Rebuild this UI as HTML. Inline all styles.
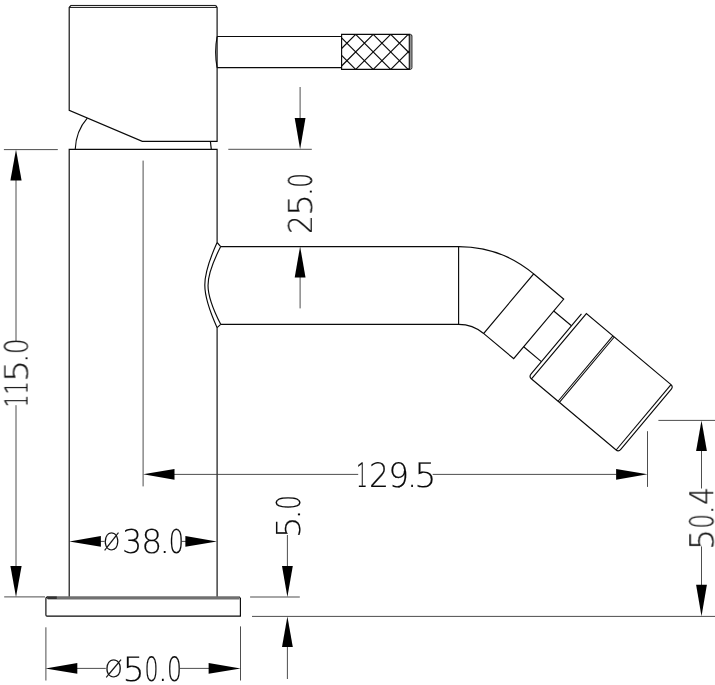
<!DOCTYPE html>
<html lang="en">
<head>
<meta charset="utf-8">
<title>Bidet mixer technical drawing</title>
<style>
html,body{margin:0;padding:0;background:#fff;}
body{width:715px;height:685px;overflow:hidden;}
svg{display:block;}
.o{fill:none;stroke:#0a0a0a;stroke-width:1.15;stroke-linecap:butt;stroke-linejoin:miter;}
.d{fill:none;stroke:#2e2e2e;stroke-width:0.85;}
.g{fill:none;stroke:#3a3a3a;stroke-width:0.9;}
.a{fill:#000;stroke:none;}
text{text-rendering:geometricPrecision;font-family:"DejaVu Sans Light","DejaVu Sans","Liberation Sans",sans-serif;font-weight:200;font-size:32.3px;fill:#0a0a0a;stroke:#0a0a0a;stroke-width:0.15;}
</style>
</head>
<body>
<svg width="715" height="685" viewBox="0 0 715 685">
<rect width="715" height="685" fill="#fff"/>

<!-- handle -->
<g class="o">
<path d="M71,5.4 L69.2,7.4 L69.2,110.3 L142.3,141.4 L217.1,141.4 L217.1,7.4 L215.6,5.4"/>
<path d="M70.8,5.45 L215.8,5.45 M69.4,7.4 L216.9,7.4" style="stroke-width:1;stroke:#111"/>
<!-- lever -->
<path d="M217.1,36.5 L341.6,36.5 M217.1,67.6 L341.6,67.6"/>
<path d="M217.1,36.5 Q214.2,52 217.1,67.6"/>
<!-- knurl -->
<path d="M341.6,34.4 L409.3,34.4 L409.3,69.3 L341.6,69.3 Z"/>
<path d="M409.3,34.4 L410.6,34.4 Q411.9,34.6 411.9,36 L411.9,67.7 Q411.9,69.1 410.6,69.3 L409.3,69.3" style="stroke-width:1"/>
<!-- dome under handle -->
<path d="M75.2,149.4 Q76,131 87.3,118.2"/>
<path d="M210.4,141.4 L211.3,149.4"/>
</g>
<path d="M410.7,35 L410.7,68.8" fill="none" stroke="#555" stroke-width="0.8"/>
<path class="o" style="stroke-width:1.2" d="M341.6,55.3 L355.6,69.3 M341.6,37.8 L373.1,69.3 M355.7,34.4 L390.6,69.3 M355.7,34.4 L341.6,48.5 M373.2,34.4 L408.1,69.3 M373.2,34.4 L341.6,66.0 M390.7,34.4 L409.3,53.0 M390.7,34.4 L355.8,69.3 M408.2,34.4 L409.3,35.5 M408.2,34.4 L373.3,69.3 M409.3,50.8 L390.8,69.3 M409.3,68.3 L408.3,69.3"/>

<!-- body -->
<g class="o">
<path d="M69.2,597 L69.2,149.4 L217.1,149.4 L217.1,242.5"/>
<path d="M217.1,327.7 L217.1,597"/>
<!-- spout junction curves (cosine-like intersection curves) -->
<path d="M217.1,242.5 C200.7,278.7 200.7,291.5 217.1,327.7"/>
<path d="M220.7,246.55 C203.8,279.6 203.8,291.3 220.7,324.35"/>
<path d="M217.1,242.5 L220.7,246.55 M217.1,327.7 L220.7,324.35"/>
<!-- spout -->
<path d="M220.7,246.55 L458.6,246.55 A116.8,116.8 0 0 1 533.68,273.88"/>
<path d="M220.7,324.35 L458.6,324.35 A39,39 0 0 1 483.67,333.47"/>
<path d="M458.6,246.55 L458.6,324.35"/>
</g>
<g class="o" transform="translate(458.6,363.35) rotate(40)">
<rect x="0" y="-116.8" width="39.2" height="77.8"/>
<path d="M39.2,-101.3 L62.3,-101.3 M39.2,-54.5 L62.3,-54.5"/>
<path d="M62.3,-116.9 L62.3,-38.6 Q62.3,-35.1 65.6,-34.9 L176,-34.9 Q179.5,-34.9 179.5,-38.4 L179.5,-117 Q179.5,-120.25 176,-120.25 L65.9,-120.25 L65.9,-34.9"/>
<path d="M176.4,-120.25 L176.4,-34.9"/>
<path d="M100.5,-120.25 L100.5,-34.9 M102.3,-120.25 L102.3,-34.9" style="stroke-width:1.05"/>
</g>

<!-- base -->
<g class="o">
<path d="M239,596.8 L240.4,598.2 L240.4,616.1 L47,616.1 Q45.9,616.1 45.9,615 L45.9,598.8 Q45.9,596.8 47.9,596.8"/>
</g>
<path d="M47.6,597.85 L239.6,597.85" fill="none" stroke="#707070" stroke-width="3.2"/>
<path d="M47.2,597.7 L56.8,597.7" fill="none" stroke="#333" stroke-width="2.6"/>

<!-- centre line and dimension / extension lines -->
<g class="d">
<path d="M143.1,160.6 L143.1,486.4"/>
<path d="M3.9,149.6 L57.8,149.6"/>
<path d="M4.2,596.9 L45,596.9"/>
<path d="M228.3,149.3 L311.8,149.3"/>
<path d="M250.1,597 L299.8,597"/>
<path d="M252,616.4 L715,616.4"/>
<path d="M658.4,420.4 L715,420.4"/>
<path d="M647.5,431.2 L647.5,486.9"/>
<path d="M45.9,627.3 L45.9,680.5"/>
<path d="M240.5,626.4 L240.5,680.5"/>
</g>
<g class="g">
<!-- 115.0 -->
<path d="M16,180 L16,341.2 M16,405.2 L16,566.5"/>
<!-- 25.0 -->
<path d="M300.1,87 L300.1,118.5 M300.1,277 L300.1,308.4"/>
<!-- 129.5 -->
<path d="M174,474.4 L358.2,474.4 M432.7,474.4 L616.5,474.4"/>
<!-- 38 -->
<path d="M100,541.4 L104.6,541.4 M181.7,541.4 L186,541.4"/>
<!-- 50 -->
<path d="M77,668.4 L105.8,668.4 M179.8,668.4 L209,668.4"/>
<!-- 5.0 -->
<path d="M287.4,535 L287.4,566.5 M287.4,646.5 L287.4,679"/>
<!-- 50.4 -->
<path d="M701.5,450.5 L701.5,488.5 M701.5,546.4 L701.5,585"/>
</g>
<g class="a">
<path d="M16,149.6 L10.4,180.6 L21.6,180.6 Z"/>
<path d="M16,596.9 L10.4,565.9 L21.6,565.9 Z"/>
<path d="M300.1,149.3 L294.7,118 L305.5,118 Z"/>
<path d="M300.1,246.4 L294.7,277.4 L305.5,277.4 Z"/>
<path d="M143.1,474.3 L174.5,468.9 L174.5,479.7 Z"/>
<path d="M647.5,474.3 L616.1,468.9 L616.1,479.7 Z"/>
<path d="M69.3,541.4 L100.9,536 L100.9,546.8 Z"/>
<path d="M216.9,541.4 L185.4,536 L185.4,546.8 Z"/>
<path d="M45.5,668.4 L77.3,663 L77.3,673.8 Z"/>
<path d="M240.6,668.4 L208.6,663 L208.6,673.8 Z"/>
<path d="M287.4,597 L282,566 L292.8,566 Z"/>
<path d="M287.4,616.4 L282,647 L292.8,647 Z"/>
<path d="M701.5,420.4 L696.1,451 L706.9,451 Z"/>
<path d="M701.5,616.2 L696.1,584.7 L706.9,584.7 Z"/>
</g>

<!-- dimension text -->
<g opacity="0.999">
<text style="font-size:33.7px"><tspan x="356.21" y="487.00" textLength="11.48" lengthAdjust="spacingAndGlyphs">1</tspan><tspan x="369.03" y="487.00" textLength="20.02" lengthAdjust="spacingAndGlyphs">2</tspan><tspan x="388.22" y="487.00" textLength="20.82" lengthAdjust="spacingAndGlyphs">9</tspan><tspan x="406.64" y="487.00">.</tspan><tspan x="414.34" y="487.00" textLength="22.25" lengthAdjust="spacingAndGlyphs">5</tspan></text>
<text style="font-size:32.8px"><tspan x="103.00" y="549.75" font-size="23.5" textLength="17.06" lengthAdjust="spacingAndGlyphs">Ø</tspan><tspan x="121.98" y="553.30" textLength="20.27" lengthAdjust="spacingAndGlyphs">3</tspan><tspan x="141.19" y="553.30" textLength="21.01" lengthAdjust="spacingAndGlyphs">8</tspan><tspan x="159.48" y="553.30">.</tspan><tspan x="168.66" y="553.30" textLength="15.27" lengthAdjust="spacingAndGlyphs">0</tspan></text>
<text style="font-size:33.6px"><tspan x="104.41" y="676.95" font-size="23.5" textLength="18.23" lengthAdjust="spacingAndGlyphs">Ø</tspan><tspan x="122.44" y="680.50" textLength="22.25" lengthAdjust="spacingAndGlyphs">5</tspan><tspan x="144.54" y="680.50" textLength="14.01" lengthAdjust="spacingAndGlyphs">0</tspan><tspan x="157.46" y="680.50">.</tspan><tspan x="167.00" y="680.50" textLength="14.99" lengthAdjust="spacingAndGlyphs">0</tspan></text>
<text style="font-size:32.5px" transform="translate(311.8,232) rotate(-90)"><tspan x="-2.05" textLength="18.93" lengthAdjust="spacingAndGlyphs">2</tspan><tspan x="15.96" textLength="22.10" lengthAdjust="spacingAndGlyphs">5</tspan><tspan x="35.23">.</tspan><tspan x="44.34" textLength="14.71" lengthAdjust="spacingAndGlyphs">0</tspan></text>
<text style="font-size:31.9px" transform="translate(27.55,405.1) rotate(-90)"><tspan x="-2.20" textLength="12.72" lengthAdjust="spacingAndGlyphs">1</tspan><tspan x="10.59" textLength="13.34" lengthAdjust="spacingAndGlyphs">1</tspan><tspan x="23.04" textLength="22.25" lengthAdjust="spacingAndGlyphs">5</tspan><tspan x="41.83">.</tspan><tspan x="51.02" textLength="15.55" lengthAdjust="spacingAndGlyphs">0</tspan></text>
<text style="font-size:32.9px" transform="translate(299.5,534.8) rotate(-90)"><tspan x="-3.42" textLength="21.95" lengthAdjust="spacingAndGlyphs">5</tspan><tspan x="15.27">.</tspan><tspan x="24.96" textLength="14.57" lengthAdjust="spacingAndGlyphs">0</tspan></text>
<text style="font-size:32.8px" transform="translate(713.3,546.8) rotate(-90)"><tspan x="-3.30" textLength="21.20" lengthAdjust="spacingAndGlyphs">5</tspan><tspan x="18.26" textLength="14.57" lengthAdjust="spacingAndGlyphs">0</tspan><tspan x="31.78">.</tspan><tspan x="41.93" textLength="17.81" lengthAdjust="spacingAndGlyphs">4</tspan></text>
</g>
</svg>
</body>
</html>
